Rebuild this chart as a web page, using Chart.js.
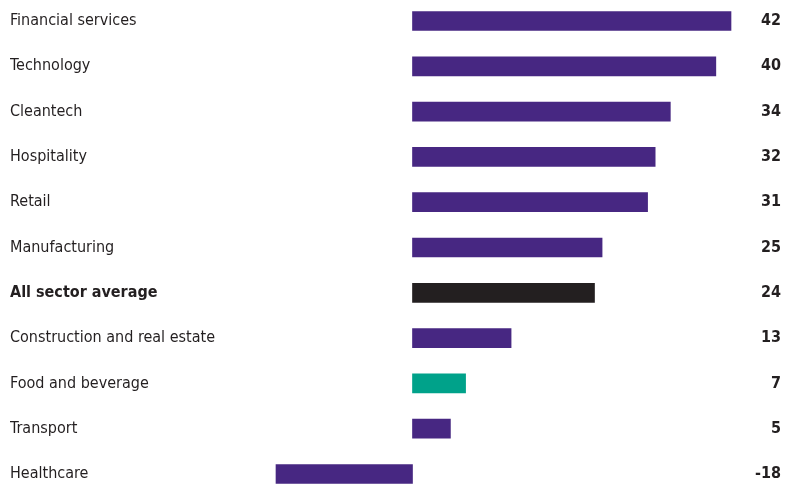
<!DOCTYPE html>
<html>
<head>
<meta charset="utf-8">
<script src="https://cdn.jsdelivr.net/npm/chart.js@4"></script>
<style>
  html, body { margin: 0; padding: 0; background: #fff; }
  #wrap { width: 797px; height: 484px; position: relative; }
</style>
</head>
<body>
<div id="wrap"><canvas id="chart"></canvas></div>
<script>
const sectors = [
  'Financial services',
  'Technology',
  'Cleantech',
  'Hospitality',
  'Retail',
  'Manufacturing',
  'All sector average',
  'Construction and real estate',
  'Food and beverage',
  'Transport',
  'Healthcare',
];
const scores = [42, 40, 34, 32, 31, 25, 24, 13, 7, 5, -18];
const averageLabel = 'All sector average';
const highlightLabel = 'Food and beverage';

const PURPLE = '#472782';
const TEAL = '#00a28a';
const BLACK = '#231f20';
const TEXT = '#231f20';
const FONT = '"Liberation Sans Narrow", "DejaVu Sans Condensed", sans-serif';

const ctx = document.getElementById('chart').getContext('2d');

const chart = new Chart(ctx, {
  type: 'bar',
  data: {
    labels: sectors,
    datasets: [
      {
        data: scores,
        backgroundColor: (c) => {
          const label = sectors[c.dataIndex];
          if (label === averageLabel) return BLACK;
          if (label === highlightLabel) return TEAL;
          return PURPLE;
        },
        barThickness: 19,
        clip: false,
        yAxisID: 'y',
      },
    ],
  },
  options: {
    indexAxis: 'y',
    responsive: true,
    maintainAspectRatio: false,
    animation: false,
    layout: {
      padding: { left: 10, right: 16, top: 21, bottom: 10 },
    },
    plugins: {
      legend: { display: false },
      tooltip: { enabled: false },
    },
    scales: {
      x: {
        display: false,
        min: -18,
        max: 42,
        grid: { display: false },
      },
      y: {
        position: 'left',
        offset: false,
        grid: { display: false, drawTicks: false },
        border: { display: false },
        afterFit: (axis) => { axis.width = 266; },
        ticks: {
          crossAlign: 'far',
          padding: 0,
          color: TEXT,
          font: (c) => ({
            family: FONT,
            size: 16,
            weight: sectors[c.index] === averageLabel ? 'bold' : 'normal',
          }),
        },
      },
      yValues: {
        type: 'category',
        labels: sectors,
        position: 'right',
        offset: false,
        grid: { display: false, drawTicks: false },
        border: { display: false },
        afterFit: (axis) => { axis.width = 50; },
        ticks: {
          crossAlign: 'far',
          padding: 0,
          color: TEXT,
          font: { family: FONT, size: 16, weight: 'bold' },
          callback: (value, index) => String(scores[index]),
        },
      },
    },
  },
});
</script>
</body>
</html>
